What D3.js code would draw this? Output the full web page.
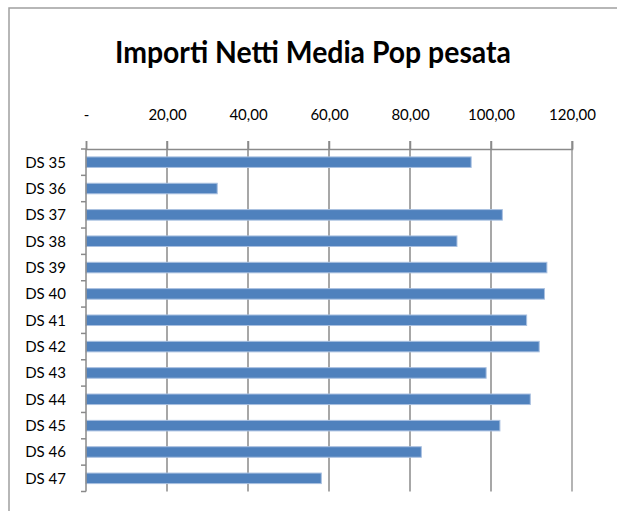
<!DOCTYPE html>
<html>
<head>
<meta charset="utf-8">
<script src="https://cdn.jsdelivr.net/npm/d3@7"></script>
<style>
  body { margin: 0; background: #fff; }
  svg { display: block; }
  text { font-family: Lato, "DejaVu Sans Condensed", sans-serif; fill: #000; }
</style>
</head>
<body>
<svg width="617" height="511"></svg>
<script>
let categories = ["DS 35", "DS 36", "DS 37", "DS 38", "DS 39", "DS 40", "DS 41",
    "DS 42", "DS 43", "DS 44", "DS 45", "DS 46", "DS 47"];
let values = [95.1, 32.4, 102.8, 91.6, 113.8, 113.2, 108.8, 111.9, 98.8, 109.7, 102.2, 82.8, 58.1];
let tickValues = [0, 20, 40, 60, 80, 100, 120];
let tickLabels = ["-", "20,00", "40,00", "60,00", "80,00", "100,00", "120,00"];
let title = "Importi Netti Media Pop pesata";

let svg = d3.select("svg"),
    margin = {top: 149, left: 86},
    width = 486,
    height = 342.5;

// chart frame
svg.append("rect")
    .attr("x", 9).attr("y", 8)
    .attr("width", 640).attr("height", 540)
    .attr("fill", "none")
    .attr("stroke", "#a0a0a0")
    .attr("stroke-width", 1.5);

svg.append("text")
    .attr("x", 313).attr("y", 63)
    .attr("text-anchor", "middle")
    .attr("textLength", 396)
    .attr("lengthAdjust", "spacingAndGlyphs")
    .style("font-size", "31px")
    .style("font-weight", "bold")
    .text(title);

let x = d3.scaleLinear().domain([0, 120]).range([0, width]);
let y = d3.scaleBand().domain(categories).range([0, height]).paddingInner(0.6).paddingOuter(0.3);

let g = svg.append("g")
    .attr("transform", "translate(" + margin.left + "," + margin.top + ")");

// vertical gridlines
g.append("g")
    .selectAll("line")
    .data(tickValues.slice(1))
    .join("line")
    .attr("x1", d => x(d)).attr("x2", d => x(d))
    .attr("y1", -8).attr("y2", height)
    .attr("stroke", d => d === 120 ? "#b4b4b4" : "#8a8a8a")
    .attr("stroke-width", d => d === 120 ? 2 : 1.5);

// top axis
let xAxis = d3.axisTop(x)
    .tickValues(tickValues)
    .tickSize(8)
    .tickPadding(21)
    .tickFormat((d, i) => tickLabels[i]);
g.append("g")
    .call(xAxis)
    .call(a => a.select(".domain").attr("stroke", "#8a8a8a").attr("stroke-width", 1.5))
    .call(a => a.selectAll(".tick line").attr("stroke", "#8a8a8a").attr("stroke-width", 1.5))
    .call(a => a.selectAll(".tick text").style("font-size", "15px").attr("fill", "#000"));

// bars
g.append("g")
    .selectAll("rect")
    .data(values)
    .join("rect")
    .attr("x", 0)
    .attr("y", (d, i) => y(categories[i]))
    .attr("width", d => x(d))
    .attr("height", y.bandwidth())
    .attr("fill", "#4f81bd")
    .attr("stroke", "#a9c0e0")
    .attr("stroke-width", 1);

// left axis
let step = y.step();
g.append("line")
    .attr("x1", 0).attr("x2", 0)
    .attr("y1", 0).attr("y2", height)
    .attr("stroke", "#8a8a8a").attr("stroke-width", 1.5);
g.append("g")
    .selectAll("line")
    .data(d3.range(categories.length + 1))
    .join("line")
    .attr("x1", -5).attr("x2", 0)
    .attr("y1", i => i * step).attr("y2", i => i * step)
    .attr("stroke", "#8a8a8a").attr("stroke-width", 1.5);

g.append("g")
    .selectAll("text")
    .data(categories)
    .join("text")
    .attr("x", -20)
    .attr("y", d => y(d) + y.bandwidth() / 2)
    .attr("dy", "0.36em")
    .attr("text-anchor", "end")
    .style("font-size", "15px")
    .text(d => d);
</script>
</body>
</html>
